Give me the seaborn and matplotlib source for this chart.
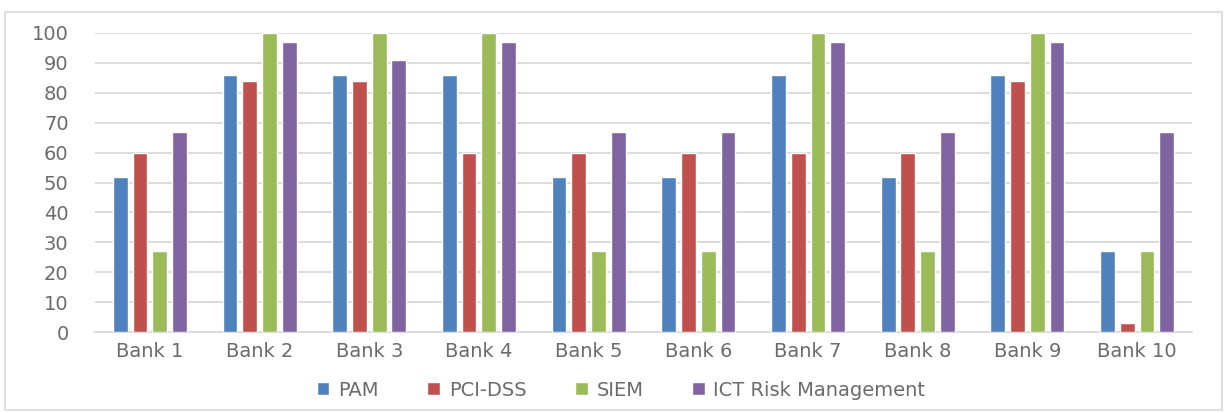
import matplotlib
matplotlib.use("Agg")
import matplotlib.pyplot as plt
from matplotlib.patches import Rectangle
import pandas as pd
import seaborn as sns

banks = ["Bank 1", "Bank 2", "Bank 3", "Bank 4", "Bank 5",
         "Bank 6", "Bank 7", "Bank 8", "Bank 9", "Bank 10"]
pam = [52, 86, 86, 86, 52, 52, 86, 52, 86, 27]
pci_dss = [60, 84, 84, 60, 60, 60, 60, 60, 84, 3]
siem = [27, 100, 100, 100, 27, 27, 100, 27, 100, 27]
ict_risk = [67, 97, 91, 97, 67, 67, 97, 67, 97, 67]
series_names = ["PAM", "PCI-DSS", "SIEM", "ICT Risk Management"]
y_ticks = [0, 10, 20, 30, 40, 50, 60, 70, 80, 90, 100]

colors = ["#4F81BD", "#C0504D", "#9BBB59", "#8064A2"]

df = pd.DataFrame({
    "Bank": banks * 4,
    "Series": [s for s in series_names for _ in banks],
    "Value": pam + pci_dss + siem + ict_risk,
})

sns.set_theme(style="white")
plt.rcParams["font.family"] = "DejaVu Sans"
plt.rcParams["font.sans-serif"] = ["DejaVu Sans"]

W, H = 1225, 413
fig = plt.figure(figsize=(W / 100, H / 100), dpi=100)
ax = fig.add_axes([95 / W, (H - 332) / H, (1192 - 95) / W, (332 - 33) / H])

sns.barplot(data=df, x="Bank", y="Value", hue="Series", order=banks,
            hue_order=series_names, palette=colors, width=0.72, gap=0.25,
            saturation=1, errorbar=None, ax=ax, zorder=3)

ax.set_xlim(-0.5, len(banks) - 0.5)
ax.set_ylim(0, 100)
ax.set_yticks(y_ticks)
ax.yaxis.grid(True, color="#D9D9D9", linewidth=1.3, zorder=0)
ax.set_axisbelow(True)
for side in ["top", "right", "left"]:
    ax.spines[side].set_visible(False)
ax.spines["bottom"].set_color("#D9D9D9")
ax.spines["bottom"].set_linewidth(1.3)
ax.spines["bottom"].set_zorder(1)
ax.set_xlabel("")
ax.set_ylabel("")
ax.tick_params(axis="both", length=0, labelsize=14, labelcolor="#6B6B6B")
ax.tick_params(axis="y", pad=19)
ax.tick_params(axis="x", pad=7)
for lab in ax.get_xticklabels() + ax.get_yticklabels():
    lab.set_fontfamily("DejaVu Sans")

ax.get_legend().remove()
handles = [Rectangle((0, 0), 1, 1, facecolor=c) for c in colors]
fig.legend(handles, series_names, loc="center", ncol=4,
           bbox_to_anchor=(621 / W, (H - 390) / H), frameon=False,
           prop={"family": "DejaVu Sans", "size": 14}, labelcolor="#6B6B6B",
           handlelength=0.65, handleheight=0.65, handletextpad=0.45,
           columnspacing=2.5)

# chart border
fig.patches.append(Rectangle((5 / W, (H - 410) / H), (1222 - 5) / W,
                             (410 - 12) / H, transform=fig.transFigure,
                             fill=False, edgecolor="#D9D9D9", linewidth=1.2))

fig.savefig("out.png", dpi=100)
